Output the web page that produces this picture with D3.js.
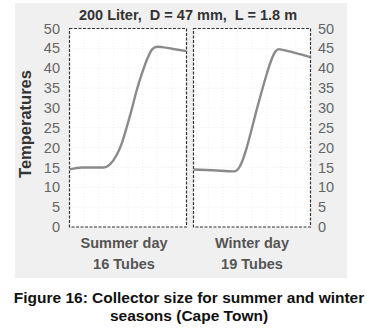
<!DOCTYPE html>
<html><head><meta charset="utf-8">
<script src="https://cdn.jsdelivr.net/npm/d3@7"></script>
<style>body{margin:0;background:#fff}svg{display:block}text{font-family:"Liberation Sans",Arial,sans-serif}</style>
</head><body><svg id="c" width="367" height="330"></svg>
<script>
const title = "200 Liter,\u00a0\u00a0D = 47 mm,\u00a0\u00a0L = 1.8 m";
const yLabel = "Temperatures";
const caption = ["Figure 16: Collector size for summer and winter", "seasons (Cape Town)"];
const panelNames = ["Summer day", "Winter day"];
const panelTubes = ["16 Tubes", "19 Tubes"];
const yTicks = [0,5,10,15,20,25,30,35,40,45,50];
// hours of the day vs temperature
const summerHours = [0, 2.5, 7.0, 8.3, 9.7, 10.7, 11.7, 12.8, 13.8, 14.9, 16.0, 17.0, 18.0, 19.0, 21, 24];
const summerTemps = [14.5, 15.0, 15.0, 15.8, 18.2, 21.0, 25.0, 29.8, 34.5, 38.8, 42.5, 44.8, 45.4, 45.3, 44.9, 44.3];
const winterHours = [0, 4, 8.2, 9.0, 9.8, 10.8, 11.8, 12.8, 13.8, 14.8, 15.8, 16.8, 17.5, 18.3, 21, 24];
const winterTemps = [14.5, 14.3, 14.0, 14.4, 16.0, 19.5, 24.0, 28.8, 33.3, 37.6, 41.5, 44.2, 44.8, 44.6, 43.8, 42.8];

const svg = d3.select("#c");
svg.append("rect").attr("x",15).attr("y",3).attr("width",332).attr("height",275).attr("fill","#f0f0f0");

const y = d3.scaleLinear().domain([0,50]).range([227,28.5]);
const panels = [
  {x0:69.5, x1:186.5, hours:summerHours, temps:summerTemps},
  {x0:193.5, x1:310.5, hours:winterHours, temps:winterTemps}
];
panels.forEach((p,i)=>{
  const x = d3.scaleLinear().domain([0,24]).range([p.x0,p.x1]);
  const g = svg.append("g");
  g.append("rect").attr("x",p.x0).attr("y",y(50)).attr("width",p.x1-p.x0).attr("height",y(0)-y(50)).attr("fill","#fff");
  g.selectAll("line.h").data(yTicks.slice(1,-1)).join("line")
    .attr("x1",p.x0).attr("x2",p.x1).attr("y1",d=>y(d)).attr("y2",d=>y(d))
    .attr("stroke","#ececec").attr("stroke-dasharray","1,2");
  g.selectAll("line.v").data([3,6,9,12,15,18,21]).join("line")
    .attr("y1",y(0)).attr("y2",y(50)).attr("x1",d=>x(d)).attr("x2",d=>x(d))
    .attr("stroke","#f0f0f0").attr("stroke-dasharray","1,2");
  g.append("rect").attr("x",p.x0).attr("y",y(50)).attr("width",p.x1-p.x0).attr("height",y(0)-y(50))
    .attr("fill","none").attr("stroke","#333").attr("stroke-width",1.2).attr("stroke-dasharray","3,1.5");
  const line = d3.line().x((d,j)=>x(p.hours[j])).y(d=>y(d)).curve(d3.curveMonotoneX);
  g.append("path").attr("d",line(p.temps)).attr("fill","none").attr("stroke","#8a8a8a").attr("stroke-width",2.4);
  const cx = (p.x0+p.x1)/2;
  svg.append("text").attr("x",cx - (i===0?4:0)).attr("y",248).attr("text-anchor","middle")
    .attr("font-weight","bold").attr("font-size",14.5).attr("fill","#555").text(panelNames[i]);
  svg.append("text").attr("x",cx - (i===0?4:0)).attr("y",269).attr("text-anchor","middle")
    .attr("font-weight","bold").attr("font-size",14.5).attr("fill","#555").text(panelTubes[i]);
});

const axL = d3.axisLeft(y).tickValues(yTicks).tickSize(0).tickPadding(0);
const gl = svg.append("g").attr("transform","translate(60,0)").call(axL);
gl.select(".domain").remove();
gl.selectAll("text").attr("font-size",14.5).attr("fill","#666").attr("font-family","Liberation Sans, Arial, sans-serif");
const axR = d3.axisRight(y).tickValues(yTicks).tickSize(0).tickPadding(0);
const gr = svg.append("g").attr("transform","translate(318,0)").call(axR);
gr.select(".domain").remove();
gr.selectAll("text").attr("font-size",14.5).attr("fill","#666").attr("font-family","Liberation Sans, Arial, sans-serif");

svg.append("text").attr("x",188).attr("y",20).attr("text-anchor","middle").attr("font-weight","bold")
  .attr("font-size",14.5).attr("fill","#333").text(title);
svg.append("text").attr("transform","translate(31,124) rotate(-90)").attr("text-anchor","middle")
  .attr("font-weight","bold").attr("font-size",16.5).attr("fill","#333").text(yLabel);
caption.forEach((c,i)=>{
  svg.append("text").attr("x",189).attr("y",303+i*18).attr("text-anchor","middle").attr("font-weight","bold")
    .attr("font-size",15.5).attr("fill","#111").text(c);
});
</script></body></html>
